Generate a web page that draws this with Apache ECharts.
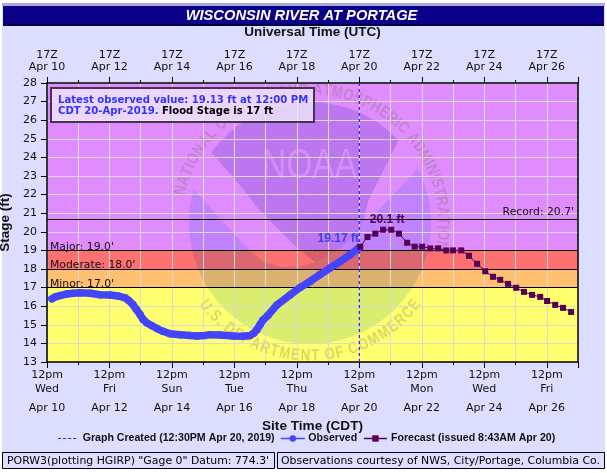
<!DOCTYPE html>
<html><head><meta charset="utf-8">
<style>html,body{margin:0;padding:0;background:#fff}#c{width:607px;height:473px}</style>
<script src="https://cdn.jsdelivr.net/npm/echarts@6/dist/echarts.min.js"></script>
</head><body><div id="c"></div>
<script>
// ---------- data ----------
var titleText = 'WISCONSIN RIVER AT PORTAGE';
var dateLabels = ['Apr 10','Apr 12','Apr 14','Apr 16','Apr 18','Apr 20','Apr 22','Apr 24','Apr 26'];
var dayLabels = ['Wed','Fri','Sun','Tue','Thu','Sat','Mon','Wed','Fri'];
// days since 12pm CDT Apr 10
var obsTimes = [0.16,0.26,0.42,0.64,0.83,1.06,1.38,1.70,2.02,2.27,2.50,2.62,2.75,2.85,2.98,3.07,3.20,3.36,3.52,3.71,3.94,4.26,4.58,4.80,5.06,5.22,5.54,5.95,6.27,6.50,6.62,6.72,6.82,6.91,7.07,7.36,7.78,8.10,8.42,8.74,9.06,9.38,9.70,9.98];
var obsStages = [16.40,16.50,16.57,16.66,16.70,16.72,16.70,16.62,16.60,16.55,16.45,16.30,16.09,15.85,15.55,15.30,15.10,14.95,14.80,14.65,14.52,14.47,14.42,14.40,14.43,14.47,14.45,14.40,14.38,14.42,14.55,14.74,15.00,15.25,15.50,16.07,16.60,17.00,17.33,17.70,18.05,18.40,18.76,19.13];
var fcstTimes = [10.03,10.26,10.51,10.76,11.02,11.27,11.53,11.77,12.01,12.27,12.52,12.78,13.00,13.26,13.51,13.77,14.03,14.28,14.51,14.76,15.02,15.27,15.53,15.79,16.01,16.27,16.52,16.78];
var fcstStages = [19.20,19.72,19.90,20.11,20.11,19.90,19.41,19.20,19.20,19.11,19.11,19.00,19.00,19.00,18.71,18.28,17.88,17.58,17.42,17.20,16.99,16.77,16.61,16.50,16.28,16.07,15.91,15.69];
var createdTime = [10.0, 10.0];
var createdStage = [13, 28];
var bandEdges = [13, 17, 18, 19, 28];
var bandColors = ['#FFFF70','#FFC070','#FF7070','#E08CFF'];
var floodLevels = [17, 18, 19, 20.7];
var floodLabels = ["Minor: 17.0'","Moderate: 18.0'","Major: 19.0'","Record: 20.7'"];
var peakLabel = '20.1 ft';
var lastLabel = '19.17 ft';

// ---------- logo helpers (decorative watermark) ----------
var CX = 310, CY = 223, R = 121;
function crop(p){ return [165 + p[0]/3, 84 + p[1]/3]; }
function arc(a0, a1, r){ var out=[], n=60, i;
  for(i=0;i<=n;i++){ var a=(a0+(a1-a0)*i/n)*Math.PI/180; out.push([CX+r*Math.cos(a), CY+r*Math.sin(a)]); }
  return out; }
function ang(p){ return Math.atan2(p[1]-CY,p[0]-CX)*180/Math.PI; }
var pUL = crop([145,210]), pUR = crop([705,165]), pLL = crop([100,320]), pLR = crop([756,255]);
var aUL = ang(pUL), aUR = ang(pUR), aLL = ang(pLL), aLR = ang(pLR);
var upper = arc(aUL, aUR, R).concat([[609,351],[596,410],[575,450],[530,490],[450,535],[395,490],[330,425],[280,375],[230,310]].map(crop));
if (aLL < 0) aLL += 360;
var lower = arc(aLR, aLL, R).concat([[180,420],[235,480],[290,530],[350,550],[410,545],[450,535],[530,490],[575,450],[596,410],[621,399]].map(crop));

function ringText(str, a0, a1, r, clockwise){
  var ctx = document.createElement('canvas').getContext('2d');
  var font = 'bold 13px "Liberation Sans"'; ctx.font = font;
  var w = str.split('').map(function(ch){ return ctx.measureText(ch).width + 0.6; });
  var total = w.reduce(function(a,b){return a+b;},0), acc = 0, out = [];
  str.split('').forEach(function(ch,i){
    var a = a0 + (a1-a0)*(acc + w[i]/2)/total; acc += w[i];
    var rad = a*Math.PI/180;
    out.push({type:'text', z:-0.4, silent:true, x:CX+r*Math.cos(rad), y:CY+r*Math.sin(rad), scaleY:1.25,
      rotation: clockwise ? -(rad+Math.PI/2) : -(rad-Math.PI/2),
      style:{text:ch, font:font, fill:'rgba(110,105,70,0.26)', textAlign:'center', textVerticalAlign:'middle'}});
  });
  return out;
}
var graphics = [
  {type:'rect', z:-5, silent:true, shape:{x:2,y:3,width:603,height:465}, style:{fill:'#DDDDFF'}},
  {type:'rect', z:-4, silent:true, shape:{x:2,y:3,width:603,height:3}, style:{fill:'#AAAADD'}},
  {type:'rect', z:-4, silent:true, shape:{x:3,y:6,width:601,height:19}, style:{fill:'#0B0088'}},
  {type:'rect', z:-4, silent:true, shape:{x:3,y:24,width:601,height:2}, style:{fill:'#000044'}},
  {type:'text', z:5, silent:true, x:301.5, y:15.5, style:{text:titleText, font:'italic bold 14.7px "Liberation Sans"', fill:'#fff', textAlign:'center', textVerticalAlign:'middle'}},
  {type:'polygon', z:-0.5, silent:true, shape:{points:upper}, style:{fill:'#D6D8F0', blend:'multiply'}},
  {type:'polygon', z:-0.5, silent:true, shape:{points:lower}, style:{fill:'#DBEDFF', blend:'multiply'}},
  {type:'text', z:-0.3, silent:true, x:309.5, y:166, scaleX:0.8, style:{text:'NOAA', font:'42px "Liberation Sans"', fill:'rgba(226,146,255,0.75)', textAlign:'center', textVerticalAlign:'middle'}},
  // note box
  {type:'rect', z:20, silent:true, shape:{x:51,y:88,width:263,height:34}, style:{fill:'rgba(240,235,250,0.78)', stroke:'#443355', lineWidth:2}},
  {type:'text', z:21, silent:true, x:58, y:100.5, style:{
    text:'{b|Latest observed value: 19.13 ft at 12:00 PM}\n{b|CDT 20-Apr-2019.} {k|Flood Stage is 17 ft}',
    rich:{b:{fill:'#3333FF',font:'bold 10.1px "DejaVu Sans"',lineHeight:11}, k:{fill:'#000',font:'bold 10.1px "DejaVu Sans"',lineHeight:11}},
    textVerticalAlign:'top', y:-6}},
  // footer boxes
  {type:'rect', z:5, silent:true, shape:{x:2.5,y:452.5,width:272,height:16}, style:{fill:'#DDDDFF',stroke:'#000',lineWidth:1}},
  {type:'rect', z:5, silent:true, shape:{x:277.5,y:452.5,width:327,height:16}, style:{fill:'#DDDDFF',stroke:'#000',lineWidth:1}},
  {type:'text', z:6, silent:true, x:7, y:461, style:{text:'PORW3(plotting HGIRP) "Gage 0" Datum: 774.3\'', font:'10.9px "DejaVu Sans"', fill:'#000', textVerticalAlign:'middle'}},
  {type:'text', z:6, silent:true, x:281, y:461, style:{text:'Observations courtesy of NWS, City/Portage, Columbia Co.', font:'10.9px "DejaVu Sans"', fill:'#000', textVerticalAlign:'middle'}}
].concat(ringText('NATIONAL OCEANIC AND ATMOSPHERIC ADMINISTRATION', 192, 372, 133, true))
 .concat(ringText('U.S. DEPARTMENT OF COMMERCE', 144, 36, 133, false));

function zip(a,b){ return a.map(function(v,i){ return [v,b[i]]; }); }
var bands = bandColors.map(function(c,i){
  return [{yAxis:bandEdges[i], xAxis:0, itemStyle:{color:c, opacity:1}}, {yAxis:bandEdges[i+1], xAxis:17}];
});
var floodLines = floodLevels.map(function(v,i){
  var isRecord = i===3;
  return {yAxis:v, label:{show:true, formatter:floodLabels[i], position:isRecord?'insideEndTop':'insideStartTop', distance:[isRecord?4:3,isRecord?1:-2], color:'#111', fontFamily:'DejaVu Sans', fontSize:10.8}};
});
var obsData = zip(obsTimes, obsStages);
obsData[obsData.length-1] = {value:obsData[obsData.length-1], label:{show:true, formatter:lastLabel, position:'left', offset:[9,-9], color:'#3E3EEE', fontFamily:'Liberation Sans', fontWeight:'bold', fontSize:12}};
var fcData = zip(fcstTimes, fcstStages);
fcData[3] = {value:fcData[3], label:{show:true, formatter:peakLabel, position:'top', offset:[4,4], color:'#550055', fontFamily:'Liberation Sans', fontWeight:'bold', fontSize:12}};

var gridLine = {show:true, lineStyle:{color:'#D8DCD0', width:1}};
var F = 'DejaVu Sans';
var option = {
  animation:false,
  backgroundColor:'#fff',
  textStyle:{fontFamily:F},
  graphic:graphics,
  grid:{left:47, top:83, width:531, height:279, containLabel:false, outerBoundsMode:'none'},
  xAxis:[
    {type:'value', position:'bottom', min:0, max:17, interval:2, z:3,
     axisLine:{show:true,lineStyle:{color:'#000',width:1.5}},
     axisTick:{show:true,length:6,lineStyle:{color:'#000'}}, minorTick:{show:true,splitNumber:2,length:3,lineStyle:{color:'#000'}},
     splitLine:gridLine, minorSplitLine:gridLine,
     axisLabel:{show:true, showMaxLabel:false, margin:6, color:'#111', formatter:function(v){ if(v%2) return ''; var i=v/2;
        return '{a|12pm}\n{a|'+dayLabels[i]+'}\n{c|'+dateLabels[i]+'}'; },
       rich:{a:{fontFamily:F,fontSize:11,lineHeight:14,color:'#111'}, c:{fontFamily:F,fontSize:11,lineHeight:18,color:'#111',verticalAlign:'bottom'}}},
     name:'Site Time (CDT)', nameLocation:'middle', nameGap:48, nameTextStyle:{fontFamily:'Liberation Sans',fontWeight:'bold',fontSize:13.6,color:'#111'}},
    {type:'value', position:'top', min:0, max:17, interval:2, z:3,
     axisLine:{show:true,lineStyle:{color:'#000',width:1.5}},
     axisTick:{show:true,length:6,lineStyle:{color:'#000'}}, minorTick:{show:true,splitNumber:2,length:3,lineStyle:{color:'#000'}},
     splitLine:{show:false},
     axisLabel:{show:true, showMaxLabel:false, margin:10, lineHeight:12, fontFamily:F, fontSize:11, color:'#111', formatter:function(v){ if(v%2) return ''; return '17Z\n'+dateLabels[v/2]; }},
     name:'Universal Time (UTC)', nameLocation:'middle', nameGap:44, nameTextStyle:{fontFamily:'Liberation Sans',fontWeight:'bold',fontSize:13.5,color:'#111'}}
  ],
  yAxis:[
    {type:'value', min:13, max:28, interval:1, z:3,
     axisLine:{show:true,onZero:false,lineStyle:{color:'#000',width:1.5}},
     axisTick:{show:true,length:6,lineStyle:{color:'#000'}},
     splitLine:gridLine,
     axisLabel:{margin:10,fontFamily:F,fontSize:11,color:'#111'},
     name:'Stage (ft)', nameLocation:'middle', nameGap:30, nameTextStyle:{fontFamily:'Liberation Sans',fontWeight:'bold',fontSize:13.5,color:'#111'}},
    {type:'value', position:'right', min:13, max:28, interval:15, z:3,
     axisLine:{show:true,onZero:false,lineStyle:{color:'#000',width:1.5}},
     axisTick:{show:false}, axisLabel:{show:false}, splitLine:{show:false}}
  ],
  legend:{left:58, top:433, itemGap:6, itemWidth:23, itemHeight:8, padding:0,
    textStyle:{fontFamily:'Liberation Sans',fontWeight:'bold',fontSize:10.6,color:'#111',padding:[0,0,0,-1]},
    data:[
      {name:'Graph Created (12:30PM Apr 20, 2019)', icon:'path://M0 0L.01 0L0 .01Z M0 10L.01 10L0 10.01Z M0 4.4H4V5.6H0Z M6.3 4.4H10.3V5.6H6.3Z M12.6 4.4H16.6V5.6H12.6Z M18.9 4.4H22.9V5.6H18.9Z', itemStyle:{color:'#3333EE',borderWidth:0}},
      {name:'Observed', itemStyle:{color:'#4444FF'}, lineStyle:{width:1.5,color:'#4444FF'}},
      {name:'Forecast (issued 8:43AM Apr 20)', itemStyle:{color:'#550055'}, lineStyle:{width:1.5,color:'#550055'}}
    ]},
  series:[
    {type:'line', name:'bands', data:[], silent:true, z:-1, xAxisIndex:0, yAxisIndex:0,
     markArea:{silent:true, z:-1, data:bands}},
    {type:'line', name:'levels', data:[], silent:true, z:4, xAxisIndex:0, yAxisIndex:0,
     markLine:{silent:true, z:4, symbol:'none', animation:false, lineStyle:{color:'#000',type:'solid',width:1}, data:floodLines}},
    {type:'line', name:'Graph Created (12:30PM Apr 20, 2019)', data:zip(createdTime,createdStage), z:5, showSymbol:false, symbol:'none',
     lineStyle:{color:'#2222FF',type:[3,3],width:1.2}, itemStyle:{color:'#2222FF'}},
    {type:'line', name:'Observed', data:obsData, z:6, symbol:'circle', symbolSize:7.5, showAllSymbol:true,
     lineStyle:{color:'#4444FF',width:7.5,join:'round',cap:'round'}, itemStyle:{color:'#4444FF'}},
    {type:'line', name:'Forecast (issued 8:43AM Apr 20)', data:fcData, z:7, symbol:'rect', symbolSize:6, showAllSymbol:true,
     lineStyle:{color:'#550055',width:1}, itemStyle:{color:'#550055'}}
  ]
};
var chart = echarts.init(document.getElementById('c'), null, {renderer:'canvas', width:607, height:473});
chart.setOption(option);
</script></body></html>
